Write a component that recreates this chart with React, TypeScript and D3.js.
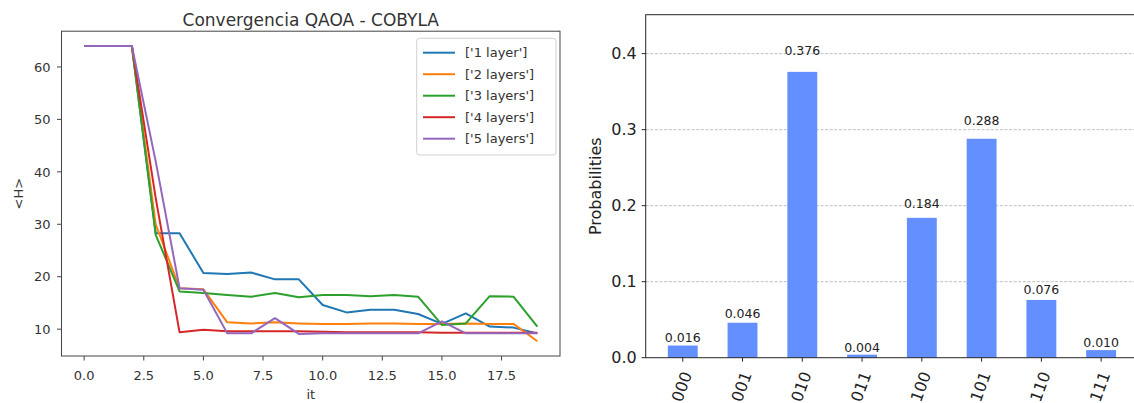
import * as d3 from "d3";

// convergence curves, <H> per iteration
const ITERS = [0, 1, 2, 3, 4, 5, 6, 7, 8, 9, 10, 11, 12, 13, 14, 15, 16, 17, 18, 19];
const LAYER_NAMES = ["['1 layer']", "['2 layers']", "['3 layers']", "['4 layers']", "['5 layers']"];
const LAYER_COLORS = ["#1f77b4", "#ff7f0e", "#2ca02c", "#d62728", "#9467bd"];
const H_1 = [64, 64, 64, 28.3, 28.3, 20.7, 20.5, 20.8, 19.5, 19.5, 14.6, 13.2, 13.7, 13.7, 12.9, 11.0, 13.0, 10.5, 10.3, 9.2];
const H_2 = [64, 64, 64, 30, 17.8, 17.6, 11.3, 11.1, 11.3, 11.1, 11.0, 11.0, 11.1, 11.1, 11.0, 11.0, 11.1, 11.0, 11.0, 7.7];
const H_3 = [64, 64, 64, 28, 17.2, 16.9, 16.5, 16.2, 16.9, 16.1, 16.5, 16.5, 16.3, 16.5, 16.2, 10.8, 11.1, 16.3, 16.2, 10.5];
const H_4 = [64, 64, 64, 35, 9.4, 9.9, 9.6, 9.6, 9.6, 9.6, 9.5, 9.4, 9.4, 9.4, 9.4, 9.3, 9.3, 9.3, 9.3, 9.3];
const H_5 = [64, 64, 64, 42, 17.8, 17.5, 9.2, 9.2, 12.1, 9.1, 9.2, 9.2, 9.2, 9.2, 9.2, 11.5, 9.2, 9.2, 9.2, 9.2];
const SERIES = [H_1, H_2, H_3, H_4, H_5];
const IT_TICKS = [0, 2.5, 5, 7.5, 10, 12.5, 15, 17.5];
const H_TICKS = [10, 20, 30, 40, 50, 60];

// measured histogram
const STATES = ["000", "001", "010", "011", "100", "101", "110", "111"];
const PROBS = [0.016, 0.046, 0.376, 0.004, 0.184, 0.288, 0.076, 0.01];
const PROB_TICKS = [0, 0.1, 0.2, 0.3, 0.4];

const FONT = "DejaVu Sans";

function Convergence() {
  const box = { left: 61.5, right: 560, top: 31.2, bottom: 356 };
  const all = SERIES.flat();
  const lo = d3.min(all)!;
  const hi = d3.max(all)!;
  const pad = (hi - lo) * 0.05;
  const span = ITERS[ITERS.length - 1] - ITERS[0];
  const x = d3
    .scaleLinear()
    .domain([ITERS[0] - span * 0.05, ITERS[ITERS.length - 1] + span * 0.05])
    .range([box.left, box.right]);
  const y = d3.scaleLinear().domain([lo - pad, hi + pad]).range([box.bottom, box.top]);
  const line = d3
    .line<number>()
    .x((_, i) => x(ITERS[i]))
    .y((d) => y(d));
  const ink = "#333";

  return (
    <g fontFamily={FONT} fill={ink}>
      <text x={(box.left + box.right) / 2} y={25.5} fontSize={17} textAnchor="middle">
        Convergencia QAOA - COBYLA
      </text>
      {SERIES.map((s, i) => (
        <path key={i} d={line(s)!} fill="none" stroke={LAYER_COLORS[i]} strokeWidth={2} strokeLinejoin="round" />
      ))}
      <rect
        x={box.left}
        y={box.top}
        width={box.right - box.left}
        height={box.bottom - box.top}
        fill="none"
        stroke="#444"
        strokeWidth={1}
      />
      {IT_TICKS.map((t) => (
        <g key={t} transform={`translate(${x(t)},${box.bottom})`}>
          <line y2={4.5} stroke="#444" />
          <text y={24} fontSize={13} textAnchor="middle">
            {t.toFixed(1)}
          </text>
        </g>
      ))}
      {H_TICKS.map((t) => (
        <g key={t} transform={`translate(${box.left},${y(t)})`}>
          <line x2={-4.5} stroke="#444" />
          <text x={-11} dy="0.36em" fontSize={13} textAnchor="end">
            {t}
          </text>
        </g>
      ))}
      <text x={(box.left + box.right) / 2} y={398.5} fontSize={13} textAnchor="middle">
        it
      </text>
      <text transform={`translate(23,${(box.top + box.bottom) / 2}) rotate(-90)`} fontSize={13} textAnchor="middle">
        {"<H>"}
      </text>
      <g>
        <rect x={416.7} y={38.3} width={139.3} height={116.7} rx={3} fill="#fff" fillOpacity={0.8} stroke="#d0d0d0" />
        {LAYER_NAMES.map((name, i) => (
          <g key={name} transform={`translate(0,${52.7 + i * 21.5})`}>
            <line x1={423} x2={455} stroke={LAYER_COLORS[i]} strokeWidth={2} />
            <text x={465} dy="0.36em" fontSize={13}>
              {name}
            </text>
          </g>
        ))}
      </g>
    </g>
  );
}

function Histogram() {
  const box = { left: 645.7, top: 14.7, bottom: 357.7 };
  const x = d3.scaleLinear().domain([-0.62, STATES.length - 1 + 0.62]).range([box.left, 1138.2]);
  const y = d3.scaleLinear().domain([0, d3.max(PROBS)! * 1.2]).range([box.bottom, box.top]);
  const right = x(STATES.length - 1 + 0.62);
  const barW = x(0.25) - x(-0.25);
  const ink = "#222";

  return (
    <g fontFamily={FONT} fill={ink}>
      {PROB_TICKS.filter((t) => t > 0).map((t) => (
        <line
          key={t}
          x1={box.left}
          x2={right}
          y1={y(t)}
          y2={y(t)}
          stroke="#b0b0b0"
          strokeWidth={0.8}
          strokeDasharray="3,1.6"
        />
      ))}
      {PROBS.map((p, i) => (
        <g key={STATES[i]}>
          <rect x={x(i) - barW / 2} y={y(p)} width={barW} height={box.bottom - y(p)} fill="#648fff" />
          <text x={x(i)} y={y(p * 1.05) - 3} fontSize={12.5} textAnchor="middle">
            {p.toFixed(3)}
          </text>
        </g>
      ))}
      <rect
        x={box.left}
        y={box.top}
        width={right - box.left}
        height={box.bottom - box.top}
        fill="none"
        stroke="#262626"
        strokeWidth={1}
      />
      {PROB_TICKS.map((t) => (
        <g key={t} transform={`translate(${box.left},${y(t)})`}>
          <line x2={-4} stroke="#262626" />
          <text x={-9} dy="0.36em" fontSize={16} textAnchor="end">
            {t.toFixed(1)}
          </text>
        </g>
      ))}
      {STATES.map((s, i) => (
        <g key={s} transform={`translate(${x(i)},${box.bottom})`}>
          <line y2={4} stroke="#262626" />
          <text
            transform="translate(-1,29) rotate(-70)"
            fontSize={16}
            textAnchor="middle"
            dominantBaseline="central"
          >
            {s}
          </text>
        </g>
      ))}
      <text
        transform={`translate(601,${(box.top + box.bottom) / 2}) rotate(-90)`}
        fontSize={16}
        textAnchor="middle"
      >
        Probabilities
      </text>
    </g>
  );
}

export default function App() {
  return (
    <svg
      width={1134}
      height={403}
      viewBox="0 0 1134 403"
      style={{ position: "absolute", left: 0, top: 0, background: "#fff" }}
    >
      <rect width={1134} height={403} fill="#fff" />
      <Convergence />
      <Histogram />
    </svg>
  );
}
